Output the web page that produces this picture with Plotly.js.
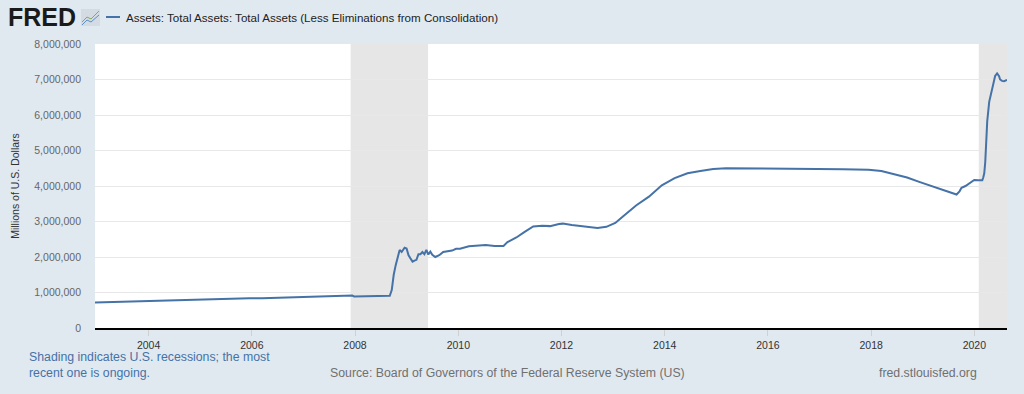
<!DOCTYPE html>
<html>
<head>
<meta charset="utf-8">
<script src="https://cdn.plot.ly/plotly-3.0.1.min.js"></script>
<style>html,body{margin:0;padding:0;background:#e1e9f0;}#chart{width:1024px;height:394px;}</style>
</head>
<body>
<div id="chart"></div>
<script>
const dates = [
'2002-12-18','2003-03-19','2003-06-18','2003-09-17','2003-12-17','2004-03-17','2004-06-16','2004-09-15','2004-12-15',
'2005-03-16','2005-06-15','2005-09-14','2005-12-14','2006-03-15','2006-06-14','2006-09-13','2006-12-13',
'2007-03-14','2007-06-13','2007-09-12','2007-12-12','2007-12-26','2008-03-12','2008-06-11','2008-09-03',
'2008-09-17','2008-09-24','2008-10-01','2008-10-15','2008-10-29','2008-11-12','2008-11-26','2008-12-17','2008-12-31',
'2009-01-14','2009-01-28','2009-02-11','2009-02-25','2009-03-11','2009-03-25','2009-04-08','2009-04-22','2009-05-06',
'2009-05-20','2009-06-03','2009-06-17','2009-07-01','2009-07-22','2009-08-19','2009-09-16','2009-10-14','2009-11-18',
'2009-12-16','2010-01-13','2010-03-17','2010-05-19','2010-07-14','2010-09-15','2010-11-17','2010-12-15',
'2011-02-16','2011-04-13','2011-06-15','2011-08-17','2011-10-12','2011-12-14','2012-01-11','2012-03-14',
'2012-06-13','2012-09-12','2012-11-14','2013-01-16','2013-03-13','2013-06-12','2013-09-11','2013-12-11',
'2014-03-12','2014-06-11','2014-09-10','2014-12-10','2015-03-11','2015-06-10','2015-09-16','2015-12-16',
'2016-06-15','2016-12-14','2017-06-14','2017-09-13','2017-12-13','2018-03-14','2018-06-13','2018-09-12',
'2018-12-12','2019-03-13','2019-06-12','2019-08-28','2019-09-18','2019-10-02','2019-10-30','2019-12-04',
'2019-12-31','2020-01-29','2020-02-26','2020-03-04','2020-03-11','2020-03-18','2020-03-25','2020-04-01',
'2020-04-15','2020-04-29','2020-05-13','2020-05-27','2020-06-10','2020-06-17','2020-06-24','2020-07-01',
'2020-07-15','2020-07-29','2020-08-05','2020-08-19'
];
const totalAssets = [
719542,730000,740000,745000,760000,765000,775000,785000,800000,
805000,815000,820000,835000,835000,845000,850000,870000,
865000,875000,885000,915000,890000,890000,900000,905000,
1070000,1300000,1500000,1770000,1970000,2200000,2140000,2260000,2240000,
2050000,1960000,1870000,1900000,1920000,2080000,2080000,2140000,2080000,
2200000,2070000,2150000,2060000,2000000,2050000,2140000,2150000,2180000,
2230000,2230000,2300000,2330000,2340000,2310000,2310000,2420000,
2550000,2700000,2860000,2880000,2870000,2930000,2940000,2900000,
2870000,2820000,2850000,2960000,3150000,3450000,3700000,4020000,
4220000,4360000,4420000,4480000,4500000,4500000,4490000,4490000,
4480000,4480000,4470000,4470000,4460000,4420000,4340000,4240000,
4110000,3990000,3880000,3760000,3850000,3950000,4000000,4090000,
4170000,4160000,4160000,4240000,4360000,4670000,5250000,5820000,
6370000,6620000,6930000,7100000,7170000,7140000,7090000,7000000,
6960000,6950000,6960000,6990000
];
const recessions = [['2007-12-01','2009-06-01'],['2020-02-01','2020-08-19']];
const xRange = ['2002-12-18','2020-08-19'];
const yTicks = [0,1000000,2000000,3000000,4000000,5000000,6000000,7000000,8000000];

const L=95, R=1007, T=44, B=328;
const px = x => (x - L)/(R - L);
const py = y => (B - y)/(B - T);

const shapes = recessions.map(r => ({
  type:'rect', xref:'x', yref:'paper', x0:r[0], x1:r[1], y0:0, y1:1,
  fillcolor:'#e6e6e6', line:{width:0}, layer:'below'
}));
shapes.push({type:'line', xref:'paper', yref:'paper', x0:px(106), x1:px(120), y0:py(17), y1:py(17), line:{color:'#4572a7', width:2}});
shapes.push({type:'rect', xref:'paper', yref:'paper', x0:px(81), x1:px(100), y0:py(26), y1:py(9), fillcolor:'#d4dbe2', line:{width:0}});
shapes.push({type:'path', xref:'paper', yref:'paper', path:`M ${px(82)} ${py(22)} L ${px(87)} ${py(17)} L ${px(91)} ${py(19)} L ${px(99)} ${py(11)}`, line:{color:'#7cb342', width:1}});
shapes.push({type:'path', xref:'paper', yref:'paper', path:`M ${px(82)} ${py(25)} L ${px(87)} ${py(20)} L ${px(91)} ${py(22)} L ${px(99)} ${py(15)}`, line:{color:'#5b8fc7', width:1}});

const annotations = [
  {text:'<b>FRED</b>', xref:'paper', yref:'paper', x:px(6), y:py(17), xanchor:'left', yanchor:'middle', showarrow:false,
   font:{family:'Liberation Sans, Arial', size:25, color:'#1a1a1a'}},
  {text:'Assets: Total Assets: Total Assets (Less Eliminations from Consolidation)', xref:'paper', yref:'paper', x:px(124), y:py(17),
   xanchor:'left', yanchor:'middle', showarrow:false, font:{family:'Liberation Sans, Arial', size:11.6, color:'#222'}},
  {text:'Shading indicates U.S. recessions; the most<br>recent one is ongoing.', xref:'paper', yref:'paper', x:px(27), y:py(348),
   xanchor:'left', yanchor:'top', align:'left', showarrow:false, font:{family:'Liberation Sans, Arial', size:12.3, color:'#4572a7'}},
  {text:'Source: Board of Governors of the Federal Reserve System (US)', xref:'paper', yref:'paper', x:px(507), y:py(373),
   xanchor:'center', yanchor:'middle', showarrow:false, font:{family:'Liberation Sans, Arial', size:12.3, color:'#707070'}},
  {text:'fred.stlouisfed.org', xref:'paper', yref:'paper', x:px(979), y:py(373),
   xanchor:'right', yanchor:'middle', showarrow:false, font:{family:'Liberation Sans, Arial', size:12.3, color:'#707070'}}
];

const trace = {x:dates, y:totalAssets, type:'scatter', mode:'lines', line:{color:'#4572a7', width:2}, hoverinfo:'x+y'};

const layout = {
  width:1024, height:394,
  margin:{l:L, r:1024-R, t:T, b:394-B},
  paper_bgcolor:'#e1e9f0', plot_bgcolor:'#ffffff',
  showlegend:false,
  font:{family:'Liberation Sans, Arial', color:'#333'},
  xaxis:{type:'date', range:xRange, tickformat:'%Y', dtick:'M24', tick0:'2004-01-01',
    showgrid:false, showline:true, linecolor:'#000', linewidth:2, ticks:'outside', ticklen:6, tickcolor:'#d0d0d0',
    tickfont:{size:10.5, color:'#333'}, zeroline:false, fixedrange:true},
  yaxis:{range:[0,8000000], tickvals:yTicks, tickformat:',', showgrid:true, gridcolor:'#e8e8e8', gridwidth:1,
    zeroline:false, showline:false, tickfont:{size:10.5, color:'#666'}, ticks:'', ticklabelstandoff:13,
    title:{text:'Millions of U.S. Dollars', font:{size:10.5, color:'#333'}, standoff:12}, fixedrange:true},
  shapes:shapes, annotations:annotations
};
Plotly.newPlot('chart', [trace], layout, {displayModeBar:false, staticPlot:true});
</script>
</body>
</html>
